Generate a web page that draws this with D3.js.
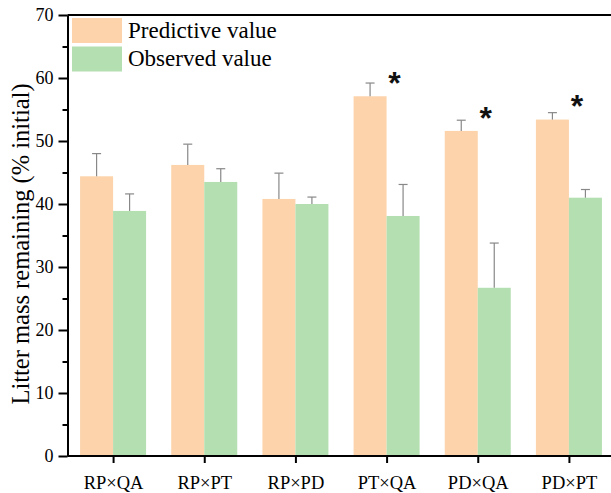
<!DOCTYPE html>
<html>
<head>
<meta charset="utf-8">
<script src="https://cdn.jsdelivr.net/npm/d3@7"></script>
<style>
	body { margin: 0; background: #fff; }
	svg { display: block; }
	svg text { font-family: "Liberation Serif", "Times New Roman", serif; }
	svg text.star { font-family: "Liberation Sans", Arial, sans-serif; }
</style>
</head>
<body>
<div id="chart"></div>
<script>
// values
let categories = ["RP×QA", "RP×PT", "RP×PD", "PT×QA", "PD×QA", "PD×PT"];
let predictive = [44.4, 46.2, 40.8, 57.1, 51.6, 53.4];
let predictiveErr = [3.6, 3.3, 4.1, 2.1, 1.7, 1.1];
let observed = [38.9, 43.5, 40.0, 38.1, 26.7, 41.0];
let observedErr = [2.7, 2.1, 1.1, 5.0, 7.1, 1.3];
let significant = [false, false, false, true, true, true];
let starValues = [0, 0, 0, 60.0, 54.4, 56.3];
let yTicks = [0, 10, 20, 30, 40, 50, 60, 70];
let yMinorTicks = [5, 15, 25, 35, 45, 55, 65];
let seriesNames = ["Predictive value", "Observed value"];

let width = 611;
let height = 493;
let colors = ["#fcd3ab", "#b3dfb1"];

let svg = d3.select("#chart").append("svg")
	.attr("width", width)
	.attr("height", height);

let axisX0 = 67.5;
let xScale = d3.scalePoint()
	.domain(categories)
	.range([axisX0, 614.5])
	.padding(0.5);

let yScale = d3.scaleLinear()
	.domain([0, 70])
	.range([456, 15]);

let barW = 33;

/* bars */
let groups = svg.append("g").attr("class", "bars")
	.selectAll("g")
	.data(categories)
	.enter()
	.append("g");

groups.append("rect")
	.attr("x", (d) => xScale(d) - barW)
	.attr("y", (d, i) => yScale(predictive[i]))
	.attr("width", barW)
	.attr("height", (d, i) => yScale(0) - yScale(predictive[i]))
	.attr("fill", colors[0]);

groups.append("rect")
	.attr("x", (d) => xScale(d))
	.attr("y", (d, i) => yScale(observed[i]))
	.attr("width", barW)
	.attr("height", (d, i) => yScale(0) - yScale(observed[i]))
	.attr("fill", colors[1]);

/* error bars (upper half only) */
function errBar(sel, vals, errs, offset) {
	sel.append("line")
		.attr("x1", (d) => xScale(d) + offset)
		.attr("x2", (d) => xScale(d) + offset)
		.attr("y1", (d, i) => yScale(vals[i]))
		.attr("y2", (d, i) => yScale(vals[i] + errs[i]))
		.attr("stroke", "#888")
		.attr("stroke-width", 1.2);
	sel.append("line")
		.attr("x1", (d) => xScale(d) + offset - 4.5)
		.attr("x2", (d) => xScale(d) + offset + 4.5)
		.attr("y1", (d, i) => yScale(vals[i] + errs[i]))
		.attr("y2", (d, i) => yScale(vals[i] + errs[i]))
		.attr("stroke", "#888")
		.attr("stroke-width", 1.2);
}
errBar(groups, predictive, predictiveErr, -barW / 2);
errBar(groups, observed, observedErr, barW / 2);

/* significance stars */
groups.filter((d, i) => significant[i])
	.append("text")
	.attr("class", "star")
	.attr("x", (d) => xScale(d) + 8)
	.attr("y", (d) => yScale(starValues[categories.indexOf(d)]) + 16)
	.attr("text-anchor", "middle")
	.style("font-size", "32px")
	.style("font-weight", "bold")
	.attr("fill", "#111")
	.text("*");

/* axes */
let xAxis = d3.axisBottom(xScale).tickSize(7).tickPadding(13).tickSizeOuter(0);
let gx = svg.append("g")
	.attr("class", "x axis")
	.attr("transform", `translate(0,${yScale(0)})`)
	.call(xAxis);
gx.select(".domain").attr("d", `M${axisX0},0H${width}`);

let yAxis = d3.axisLeft(yScale).tickValues(yTicks).tickSize(9).tickPadding(5).tickSizeOuter(0);
let gy = svg.append("g")
	.attr("class", "y axis")
	.attr("transform", `translate(${axisX0},0)`)
	.call(yAxis);

svg.append("g")
	.attr("class", "y minor")
	.attr("transform", `translate(${axisX0},0)`)
	.call(d3.axisLeft(yScale).tickValues(yMinorTicks).tickSize(5).tickFormat("").tickSizeOuter(0))
	.select(".domain").remove();

svg.selectAll(".axis .domain, .axis line, .minor line")
	.attr("stroke", "#000")
	.attr("stroke-width", 2);
svg.selectAll(".x.axis text")
	.attr("fill", "#000")
	.style("font-size", "18.5px");
svg.selectAll(".y.axis text")
	.attr("fill", "#000")
	.style("font-size", "18px");

// top frame line
svg.append("line")
	.attr("x1", axisX0)
	.attr("x2", width)
	.attr("y1", yScale(70))
	.attr("y2", yScale(70))
	.attr("stroke", "#000")
	.attr("stroke-width", 2);

// y title
svg.append("text")
	.attr("transform", "translate(29,244) rotate(-90)")
	.attr("text-anchor", "middle")
	.style("font-size", "24.5px")
	.attr("fill", "#000")
	.text("Litter mass remaining (% initial)");

/* legend */
let legend = svg.append("g").attr("class", "legend")
	.selectAll("g")
	.data(seriesNames)
	.enter()
	.append("g")
	.attr("transform", (d, i) => `translate(72,${18 + i * 28.5})`);

legend.append("rect")
	.attr("width", 50)
	.attr("height", 25)
	.attr("fill", (d, i) => colors[i]);

legend.append("text")
	.attr("x", 56)
	.attr("y", 19.5)
	.style("font-size", "23px")
	.attr("fill", "#000")
	.text((d) => d);
</script>
</body>
</html>
